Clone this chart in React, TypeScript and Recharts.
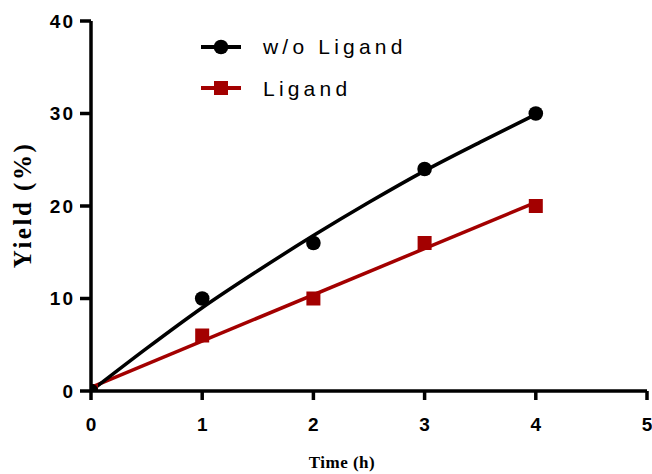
import React from 'react';
import { ComposedChart, Line, Scatter, XAxis, YAxis, Legend, Label } from 'recharts';

// Measured data
const hours = [0, 1, 2, 3, 4];
const noLigandYield = [0, 10, 16, 24, 30];
const ligandYield = [0, 6, 10, 16, 20];

// Fitted curves
const fitHours = [0, 0.5, 1, 1.5, 2, 2.5, 3, 3.5, 4];
const noLigandFit = [0, 4.6, 9.0, 13.0, 16.8, 20.4, 23.8, 26.9, 29.9];
const ligandFitHours = [0, 4];
const ligandFit = [0.4, 20.4];

const xTicks = [0, 1, 2, 3, 4, 5];
const yTicks = [0, 10, 20, 30, 40];

const seriesNames = ['w/o Ligand', 'Ligand'];

const RED = '#A30000';
const BLACK = '#000000';

const toPoints = (xs: number[], ys: number[]) => xs.map((x, i) => ({ x, y: ys[i] }));

const noLigandPts = toPoints(hours, noLigandYield);
const ligandPts = toPoints(hours, ligandYield);
const noLigandFitPts = toPoints(fitHours, noLigandFit);
const ligandFitPts = toPoints(ligandFitHours, ligandFit);

const CircleShape = (p: any) => <circle cx={p.cx} cy={p.cy} r={7.3} fill={BLACK} />;
const SquareShape = (p: any) => <rect x={p.cx - 7} y={p.cy - 7} width={14} height={14} fill={RED} />;

const tickFont = { fontFamily: 'Liberation Sans, Arial, sans-serif', fontWeight: 700, fontSize: 19, fill: '#000' };

const LegendContent = () => (
  <div style={{ fontFamily: 'Liberation Sans, Arial, sans-serif', fontSize: 21, letterSpacing: 4.2, color: '#000' }}>
    {seriesNames.map((name, i) => (
      <div key={name} style={{ display: 'flex', alignItems: 'center', height: 41.6 }}>
        <svg width={40} height={20} style={{ marginRight: 22 }}>
          <line x1={0} y1={10} x2={40} y2={10} stroke={i === 0 ? BLACK : RED} strokeWidth={4} />
          {i === 0 ? (
            <circle cx={20} cy={10} r={7.3} fill={BLACK} />
          ) : (
            <rect x={13} y={3} width={14} height={14} fill={RED} />
          )}
        </svg>
        <span style={{ lineHeight: '21px' }}>{name}</span>
      </div>
    ))}
  </div>
);

export default function App() {
  return (
    <div style={{ position: 'absolute', left: 0, top: 0, width: 652, height: 474, background: '#fff' }}>
      <ComposedChart width={652} height={474} margin={{ top: 21, right: 5, bottom: 0, left: 0 }}>
        <XAxis
          type="number"
          dataKey="x"
          domain={[0, 5]}
          ticks={xTicks}
          allowDataOverflow
          height={83}
          tickSize={9}
          tickMargin={18}
          stroke="#000"
          strokeWidth={3.5}
          tick={tickFont}
          tickLine={{ stroke: '#000', strokeWidth: 3.5 }}
        >
          <Label
            value="Time (h)"
            position="center"
            dx={-27}
            dy={29}
            style={{ fontFamily: 'Liberation Serif, Times New Roman, serif', fontWeight: 700, fontSize: 17, fill: '#000', letterSpacing: 0.5 }}
          />
        </XAxis>
        <YAxis
          type="number"
          dataKey="y"
          domain={[0, 40]}
          ticks={yTicks}
          allowDataOverflow
          width={91}
          tickSize={11}
          tickMargin={5}
          stroke="#000"
          strokeWidth={3.5}
          tick={{ ...tickFont, letterSpacing: 2 }}
          tickLine={{ stroke: '#000', strokeWidth: 3.5 }}
        >
          <Label
            value="Yield (%)"
            angle={-90}
            position="center"
            dx={-23}
            dy={-1}
            style={{ fontFamily: 'Liberation Serif, Times New Roman, serif', fontWeight: 700, fontSize: 25, fill: '#000', letterSpacing: 2.5 }}
          />
        </YAxis>
        <Legend
          layout="horizontal"
          verticalAlign="middle"
          align="center"
          content={LegendContent}
          wrapperStyle={{ left: 201, top: 26, width: 260, height: 84 }}
        />
        <Line
          data={ligandFitPts}
          dataKey="y"
          type="linear"
          stroke={RED}
          strokeWidth={3.5}
          dot={false}
          activeDot={false}
          legendType="none"
          isAnimationActive={false}
        />
        <Scatter
          name={seriesNames[1]}
          data={ligandPts}
          dataKey="y"
          fill={RED}
          shape={SquareShape}
          isAnimationActive={false}
        />
        <Line
          data={noLigandFitPts}
          dataKey="y"
          type="monotone"
          stroke={BLACK}
          strokeWidth={3.5}
          dot={false}
          activeDot={false}
          legendType="none"
          isAnimationActive={false}
        />
        <Scatter
          name={seriesNames[0]}
          data={noLigandPts}
          dataKey="y"
          fill={BLACK}
          shape={CircleShape}
          isAnimationActive={false}
        />
      </ComposedChart>
    </div>
  );
}
